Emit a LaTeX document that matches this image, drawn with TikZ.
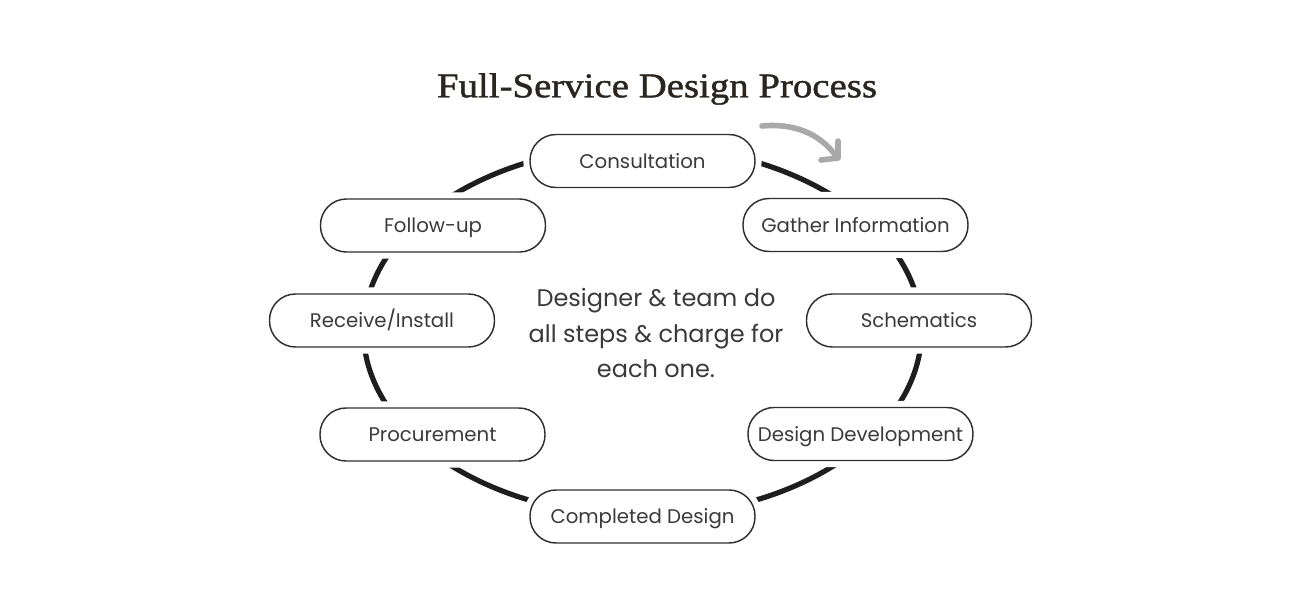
\documentclass[tikz,border=0pt]{standalone}
\usepackage{fontspec}
\setmainfont{Poppins}
\newfontfamily\titlefont[FakeStretch=1.12,FakeBold=1.2]{Liberation Serif}
\usetikzlibrary{positioning}
\definecolor{ringcol}{HTML}{1E1E1E}
\definecolor{linecol}{HTML}{303030}
\definecolor{textcol}{HTML}{3A3A3A}
\definecolor{titlecol}{HTML}{2A2520}
\definecolor{arrowcol}{HTML}{A9A9A9}
\tikzset{
  stage/.style={draw=linecol, line width=1.1pt, rounded corners=19.5pt,
    minimum width=168.75pt, minimum height=39.75pt, inner sep=0pt,
    text height=13pt, text depth=2.5pt,
    fill=white, preaction={draw=white, line width=10pt},
    font=\fontsize{14.8}{17}\selectfont, text=textcol},
  ring/.style={draw=ringcol, line width=3.9pt},
  turn/.style={draw=arrowcol, line width=4.2pt, line cap=round, line join=round}
}
\begin{document}
\begin{tikzpicture}[x=0.75pt,y=-0.75pt]
\useasboundingbox (0,0) rectangle (1311,592);
\fill[white] (0,0) rectangle (1311,592);
\node[font=\titlefont\fontsize{26}{30}\selectfont, text=titlecol] (title) at (657,89) {Full-Service Design Process};
\draw[ring] (642.5,331) ellipse [x radius=279, y radius=185];
\node[stage] (cons) at (642.5,161) {Consultation};
\node[stage] (gath) at (855.5,225) {Gather Information};
\node[stage] (sche) at (919,320.5) {Schematics};
\node[stage] (ddev) at (860.5,434) {Design Development};
\node[stage] (comp) at (642.5,516.5) {Completed Design};
\node[stage] (proc) at (432.5,434.5) {Procurement};
\node[stage] (recv) at (382,320.5) {Receive/Install};
\node[stage] (foll) at (433,225.5) {Follow-up};
\node[align=center, font=\fontsize{18}{26.6}\selectfont, text=textcol] (mid) at (656,333)
  {Designer \& team do\\all steps \& charge for\\each one.};
\coordinate (a0) at (762,126);
\coordinate (a1) at (836,156);
\coordinate (h1) at (838,141);
\coordinate (h2) at (838,158);
\coordinate (h3) at (821,160);
\draw[turn] (a0) .. controls (795,123) and (820,134) .. (a1);
\draw[turn] (h1) -- (h2) -- (h3);
\end{tikzpicture}
\end{document}
